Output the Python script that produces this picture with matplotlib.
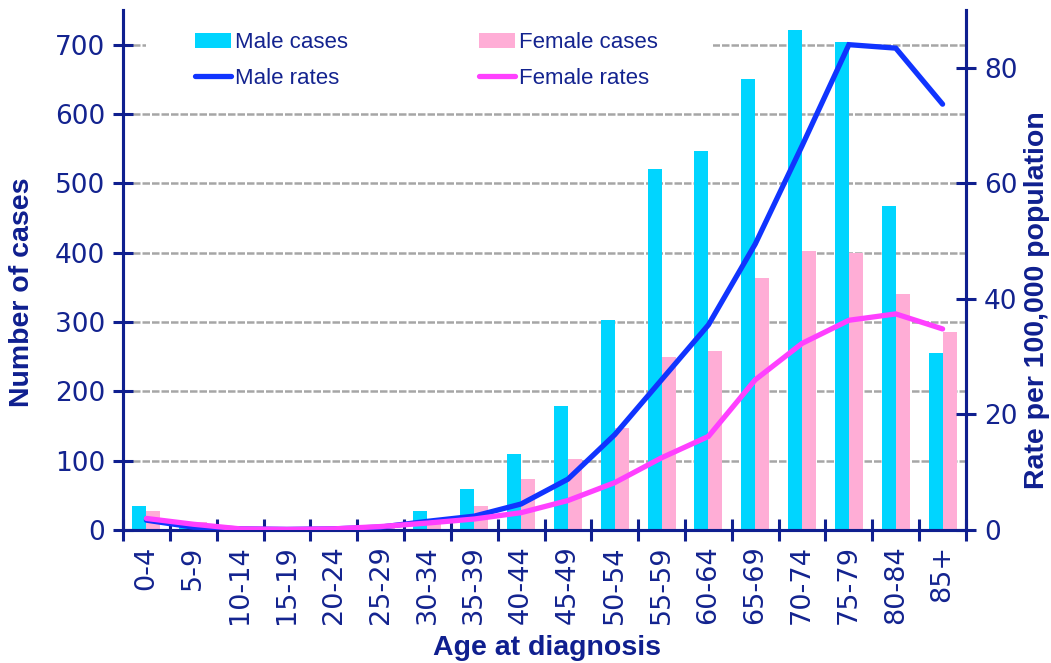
import matplotlib
matplotlib.use("Agg")
import matplotlib.pyplot as plt
import numpy as np
from matplotlib.patches import Patch, Rectangle
from matplotlib.lines import Line2D

age_groups = ['0-4', '5-9', '10-14', '15-19', '20-24', '25-29', '30-34', '35-39', '40-44',
              '45-49', '50-54', '55-59', '60-64', '65-69', '70-74', '75-79', '80-84', '85+']
male_cases = [35, 6, 2, 2, 2, 4, 28, 59, 110, 179, 303, 521, 547, 651, 721, 704, 468, 256]
female_cases = [28, 12, 2, 1, 3, 6, 10, 35, 73, 102, 147, 250, 258, 364, 403, 400, 341, 285]
male_rates = [1.7, 0.5, 0.2, 0.1, 0.2, 0.5, 1.5, 2.4, 4.5, 8.8, 16.5, 26.0, 35.5, 49.5, 66.5, 84.0, 83.4, 73.7]
female_rates = [2.0, 1.0, 0.2, 0.1, 0.2, 0.6, 1.2, 1.9, 3.0, 5.1, 8.2, 12.5, 16.2, 26.0, 32.3, 36.3, 37.4, 34.8]
left_ticks = [0, 100, 200, 300, 400, 500, 600, 700]
right_ticks = [0, 20, 40, 60, 80]

NAVY = '#0F1F8F'
TXT = '#13238F'
C_MALE = '#00D5FF'
C_FEM = '#FFADD6'
L_MALE = '#1034FF'
L_FEM = '#FF40FF'

fig = plt.figure(figsize=(10.51, 6.63), dpi=100)
ax = fig.add_axes([123/1051, 1-530/663, (966-123)/1051, 520/663])
ax2 = ax.twinx()

x = np.arange(len(age_groups))
w = 0.3
ax.bar(x - w/2, male_cases, width=w, color=C_MALE, zorder=2)
ax.bar(x + w/2, female_cases, width=w, color=C_FEM, zorder=2)

ax2.plot(x, male_rates, color=L_MALE, lw=3.8, solid_capstyle='round', solid_joinstyle='miter', zorder=3)
ax2.plot(x, female_rates, color=L_FEM, lw=3.8, solid_capstyle='round', solid_joinstyle='miter', zorder=3)

ax.set_xlim(-0.5, len(age_groups) - 0.5)
ax.set_ylim(0, 750)
ax2.set_ylim(0, 90)

for a in (ax, ax2):
    a.spines['top'].set_visible(False)
    for s in ('left', 'right', 'bottom'):
        a.spines[s].set_color(NAVY)
        a.spines[s].set_linewidth(2.2)
    a.patch.set_visible(False)

ax.set_yticks(left_ticks)
ax2.set_yticks(right_ticks)
ax.set_yticklabels([str(v) for v in left_ticks])
ax2.set_yticklabels([str(v) for v in right_ticks])

ax.set_xticks(x)
ax.set_xticklabels(age_groups, rotation=90)
ax.set_xticks(np.arange(-0.5, len(age_groups), 1.0), minor=True)
ax.tick_params(axis='x', which='major', length=0, pad=11, labelsize=19.5, labelcolor=TXT)
ax.tick_params(axis='x', which='minor', direction='inout', length=16, width=2.2, color=NAVY)
ax.tick_params(axis='y', direction='inout', length=14, width=2.2, color=NAVY, labelsize=19,
               labelcolor=TXT, pad=6)
ax2.tick_params(axis='y', direction='inout', length=14, width=2.2, color=NAVY, labelsize=19,
                labelcolor=TXT, pad=6)
for lab in ax.get_xticklabels() + ax.get_yticklabels() + ax2.get_yticklabels():
    lab.set_fontfamily('DejaVu Sans')

ax.set_axisbelow(True)
ax.yaxis.grid(True, color='#A6A6A6', linestyle=(0, (3, 0.8)), linewidth=1.8, zorder=0)
for gl in ax.get_ygridlines()[:1]:
    gl.set_visible(False)

# white legend background covering the grid
ax.add_patch(Rectangle((146/1051, 1-100/663), (713-146)/1051, 88/663,
                       transform=fig.transFigure, facecolor='white', edgecolor='none', zorder=1))

tfont = dict(family='Liberation Sans', fontsize=20.5, fontweight='bold', color=NAVY)
fig.text(22/1051, 1-292/663, 'Number of cases', rotation=90, ha='center', va='center', **tfont)
fig.text(1037/1051, 1-300/663, 'Rate per 100,000 population', rotation=90, ha='center', va='center', **tfont)
fig.text(547/1051, 1-648/663, 'Age at diagnosis', ha='center', va='center', **tfont)

handles = [Patch(facecolor=C_MALE, edgecolor='none'),
           Line2D([], [], color=L_MALE, lw=3.8, solid_capstyle='round'),
           Patch(facecolor=C_FEM, edgecolor='none'),
           Line2D([], [], color=L_FEM, lw=3.8, solid_capstyle='round')]
labels = ['Male cases', 'Male rates', 'Female cases', 'Female rates']
leg = ax2.legend(handles, labels, ncol=2, loc='upper left',
                 bbox_to_anchor=(184/1051, 1-21/663), bbox_transform=fig.transFigure,
                 prop=dict(family='Liberation Sans', size=16), frameon=False,
                 handlelength=1.6, handletextpad=0.2, columnspacing=5.9,
                 labelspacing=0.65, borderpad=0.5, borderaxespad=0)
for t in leg.get_texts():
    t.set_color(TXT)
leg.set_zorder(10)

fig.savefig('out.png', dpi=100)
